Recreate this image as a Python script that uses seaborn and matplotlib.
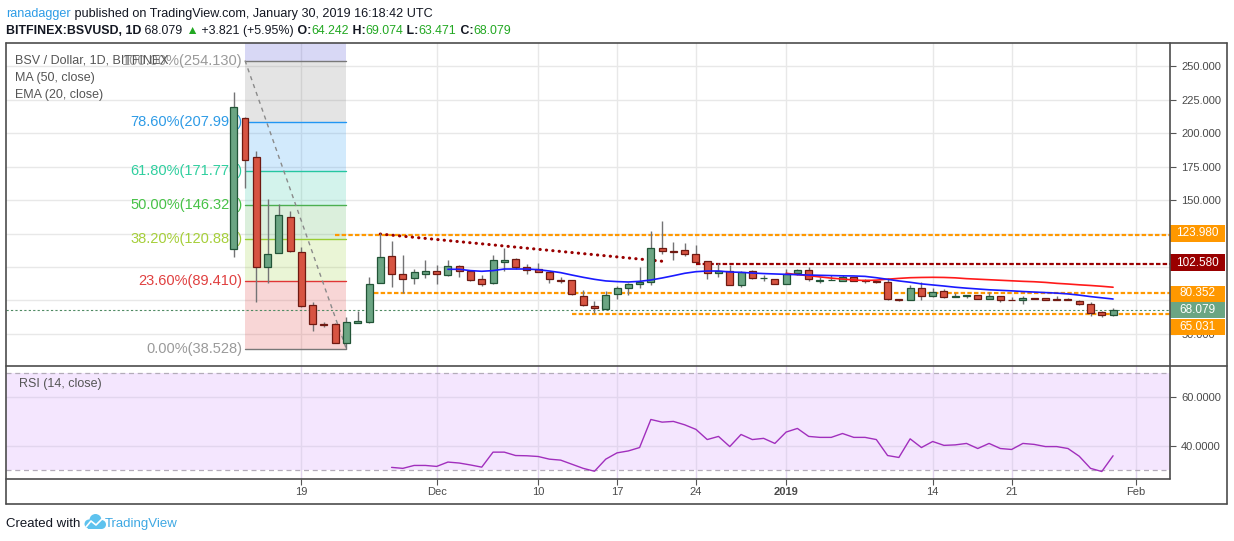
import numpy as np
import pandas as pd
import seaborn as sns
import matplotlib.pyplot as plt
from matplotlib.patches import Rectangle, Circle
from matplotlib.lines import Line2D

# ---- data (BSV / USD daily, Bitfinex) ----
start_date = "2018-11-13"
opens = [113.2, 211.0, 181.9, 100.2, 110.7, 137.1, 111.0, 71.4, 57.5, 57.5,
         43.1, 58.2, 59.2, 88.3, 108.0, 94.6, 91.6, 94.5, 97.0, 94.3,
         100.5, 97.0, 90.8, 87.8, 103.5, 105.7, 99.8, 98.3, 96.0, 90.1,
         90.1, 78.6, 70.7, 68.9, 79.6, 84.1, 87.1, 88.6, 113.9, 111.7,
         112.5, 109.5, 104.3, 95.3, 97.0, 86.2, 96.8, 91.8, 91.0, 87.1,
         95.3, 97.5, 89.6, 90.2, 89.8, 92.3, 90.1, 89.6, 88.8, 76.1,
         75.2, 84.1, 78.4, 82.1, 77.9, 78.5, 78.9, 76.4, 78.1, 75.4,
         75.1, 76.8, 76.9, 76.4, 76.1, 74.6, 72.4, 66.2, 64.242]
highs = [230.4, 212.0, 186.6, 150.7, 147.0, 141.8, 114.7, 73.9, 59.0, 58.0,
         62.5, 67.2, 92.3, 125.1, 119.6, 108.7, 98.5, 105.2, 101.5, 105.2,
         101.5, 97.5, 94.0, 109.0, 114.2, 106.5, 102.2, 103.0, 96.0, 92.3,
         90.5, 82.8, 74.4, 82.1, 85.8, 87.9, 99.8, 126.9, 134.3, 118.7,
         118.2, 116.4, 104.5, 102.8, 101.5, 97.2, 97.5, 94.0, 91.2, 98.5,
         98.5, 100.0, 92.5, 94.0, 94.0, 92.8, 91.0, 89.9, 91.6, 76.4,
         86.6, 88.6, 84.1, 83.4, 80.3, 78.8, 79.1, 81.1, 78.4, 77.9,
         78.4, 77.2, 77.2, 78.4, 76.6, 75.1, 74.1, 67.2, 69.074]
lows = [107.7, 159.2, 74.1, 88.3, 110.2, 111.0, 70.5, 52.2, 54.9, 43.0,
        38.5, 58.0, 58.0, 88.3, 84.9, 80.8, 87.5, 92.0, 87.5, 93.5,
        92.5, 89.6, 85.8, 87.5, 97.2, 98.3, 95.0, 96.0, 88.3, 88.0,
        79.3, 70.9, 65.5, 68.9, 75.9, 79.4, 84.1, 86.6, 110.0, 105.2,
        108.2, 103.5, 91.3, 92.8, 86.4, 85.0, 91.0, 89.6, 87.0, 87.1,
        94.0, 89.6, 87.8, 90.0, 89.8, 89.5, 88.3, 88.3, 75.4, 74.9,
        75.2, 75.2, 77.9, 77.2, 77.8, 77.0, 76.2, 76.1, 74.1, 75.0,
        72.4, 75.8, 75.2, 75.4, 75.0, 72.0, 63.7, 62.9, 63.471]
closes = [219.2, 179.6, 100.2, 109.5, 138.6, 111.7, 70.9, 57.5, 56.7, 43.1,
          58.7, 59.5, 87.1, 107.2, 94.6, 91.3, 96.0, 97.0, 94.5, 100.5,
          96.8, 90.5, 87.1, 105.0, 105.0, 99.8, 98.0, 96.0, 90.8, 89.6,
          79.6, 71.4, 69.2, 78.9, 84.1, 87.1, 88.6, 113.9, 111.7, 111.5,
          109.5, 104.0, 95.3, 97.0, 86.4, 96.3, 91.6, 92.0, 87.1, 94.5,
          97.5, 90.8, 90.3, 90.5, 92.3, 89.8, 89.4, 88.6, 76.3, 75.2,
          84.1, 78.1, 81.1, 77.9, 78.7, 78.8, 76.4, 78.1, 75.1, 75.2,
          76.6, 76.3, 75.7, 75.7, 75.1, 72.1, 65.3, 64.258, 68.079]

# EMA 20 starts at bar 19, MA 50 at bar 49, RSI 14 at bar 14
ema20 = [98.3, 98.3, 97.3, 96.8, 97.3, 98.5, 98.5, 98.5, 98.0, 97.0,
         95.8, 94.0, 92.3, 90.8, 89.6, 89.1, 88.8, 89.3, 90.3, 91.8,
         93.5, 95.3, 96.5, 97.0, 97.0, 96.3, 96.0, 95.5, 95.1, 94.8,
         94.5, 94.3, 94.0, 93.8, 93.6, 93.4, 93.3, 93.0, 92.0, 90.8,
         89.6, 88.6, 87.4, 86.6, 85.8, 84.9, 84.2, 83.6, 83.0, 82.6,
         82.2, 81.7, 81.3, 80.9, 80.5, 79.9, 79.0, 77.9, 77.0, 76.1]
ma50 = [95.3, 94.3, 93.5, 92.6, 91.7, 91.0, 90.3, 89.9, 90.2, 90.9,
        91.5, 92.0, 92.2, 92.3, 92.2, 91.9, 91.3, 90.9, 90.5, 90.1,
        89.7, 89.3, 89.0, 88.5, 87.8, 87.3, 86.7, 86.2, 85.6, 84.9]
rsi14 = [31.1, 30.7, 31.9, 31.9, 31.5, 33.3, 32.9, 32.1, 31.2, 37.4,
         37.4, 36.0, 35.9, 35.6, 34.5, 34.1, 32.4, 30.7, 29.5, 34.5,
         37.1, 37.9, 39.3, 50.9, 49.8, 50.1, 48.7, 46.8, 42.6, 43.9,
         39.7, 44.7, 42.6, 43.1, 41.0, 45.7, 47.2, 43.9, 43.5, 43.5,
         45.1, 43.5, 43.5, 42.6, 36.0, 35.2, 42.9, 39.3, 41.8, 40.2,
         40.4, 41.0, 38.9, 41.0, 38.9, 38.5, 41.0, 40.6, 39.7, 39.7,
         38.9, 35.7, 30.7, 29.4, 35.9]

tick_dates = ["2018-11-19", "2018-12-01", "2018-12-10", "2018-12-17", "2018-12-24",
              "2019-01-01", "2019-01-14", "2019-01-21", "2019-02-01"]
tick_labels = ["19", "Dec", "10", "17", "24", "2019", "14", "21", "Feb"]

price_ticks = [50, 75, 100, 125, 150, 175, 200, 225, 250]
price_tick_labels = ["50.000", "", "", "", "150.000", "175.000", "200.000", "225.000", "250.000"]

fib_prices = [254.130, 207.991, 171.770, 146.329, 120.888, 89.410, 38.528]
fib_labels = ["100.00%(254.130)", "78.60%(207.991)", "61.80%(171.770)", "50.00%(146.329)",
              "38.20%(120.888)", "23.60%(89.410)", "0.00%(38.528)"]
fib_start, fib_end = 1, 10

levels = [123.980, 102.580, 80.352, 65.031]
level_start = [9, 41, 12.4, 30]
trend_pts = ([13, 38], [124.6, 104.3])
last_price = 68.079

# ---- styling ----
sns.set_style("white")
plt.rcParams["font.family"] = ["Liberation Sans", "DejaVu Sans"]

W, H = 1234, 541
fig = plt.figure(figsize=(W / 100, H / 100), dpi=100)


def rect(x0, y0, x1, y1):
    return [x0 / W, 1 - y1 / H, (x1 - x0) / W, (y1 - y0) / H]


def fig_line(x0, y0, x1, y1, color="#4d4d4d", lw=1.2):
    fig.add_artist(Line2D([x0 / W, x1 / W], [1 - y0 / H, 1 - y1 / H],
                          transform=fig.transFigure, color=color, lw=lw, zorder=20))


ax = fig.add_axes(rect(6, 43, 1170, 366))
ax_rsi = fig.add_axes(rect(6, 366, 1170, 479), sharex=ax)
for a in (ax, ax_rsi):
    for s in a.spines.values():
        s.set_visible(False)

idx = np.arange(len(closes))
start = pd.Timestamp(start_date)
tick_pos = [(pd.Timestamp(d) - start).days for d in tick_dates]

ax.set_xlim(-20.2, 83.05)
ax.set_ylim(26.1, 267.2)

# price axis
ax.set_yticks(price_ticks)
ax.set_yticklabels(price_tick_labels)
ax.yaxis.tick_right()
ax.tick_params(axis="y", length=4, width=0.8, color="#555555", labelsize=8,
               labelcolor="#4a4a4a", pad=4)
ax.set_xticks(tick_pos)
ax.tick_params(axis="x", bottom=False, labelbottom=False)
ax.grid(True, color="#e8e8e8", lw=1)
ax.set_axisbelow(True)

# fibonacci retracement block
fib_line_colors = ["#787878", "#2196f3", "#26c6a0", "#4caf50", "#9acd32", "#e03535", "#787878"]
fib_text_colors = ["#9a9a9a", "#2e9be6", "#2fcf9f", "#47c247", "#a6cf3a", "#e04040", "#9a9a9a"]
ax.fill_between([fib_start, fib_end], fib_prices[0], 267.2, color="#3f3fd0", alpha=0.2, lw=0, zorder=1)
for k in range(len(fib_prices) - 1):
    ax.fill_between([fib_start, fib_end], fib_prices[k + 1], fib_prices[k],
                    color=fib_line_colors[k], alpha=0.2, lw=0, zorder=1)
for p, lab, lc, tc in zip(fib_prices, fib_labels, fib_line_colors, fib_text_colors):
    ax.plot([fib_start, fib_end], [p, p], color=lc, lw=1, zorder=2)
    ax.text(0.8, p, lab, color=tc, fontsize=10.5, ha="right", va="center", zorder=2.5)
ax.plot([fib_start, fib_end], [fib_prices[0], fib_prices[-1]], color="#8a8a8a",
        lw=1, ls=(0, (3, 3)), zorder=2)

# drawn levels
ax.axhline(last_price, color="#4f8a63", lw=0.8, ls=(0, (2, 2)), zorder=2)
lvl_colors = ["#ff9800", "#990000", "#ff9800", "#ff9800"]
for p, x0, c in zip(levels, level_start, lvl_colors):
    ax.plot([x0, 90], [p, p], color=c, lw=1.6, ls=(0, (2, 1)), zorder=3)
ax.plot(trend_pts[0], trend_pts[1], color="#990000", lw=2.2, ls=(0, (0.1, 2.0)),
        dash_capstyle="round", zorder=3)

# candles
for i, o, h, l, c in zip(idx, opens, highs, lows, closes):
    up = c >= o
    ax.vlines(i, l, h, color="#737375", lw=1, zorder=4)
    ax.bar(i, max(abs(c - o), 0.25), bottom=min(o, c), width=0.62,
           color="#6ba583" if up else "#d75442",
           edgecolor="#225437" if up else "#6f1a12", lw=0.9, zorder=5)

ema_df = pd.DataFrame({"bar": idx[19:], "ema": ema20})
ma_df = pd.DataFrame({"bar": idx[49:], "ma": ma50})
sns.lineplot(data=ma_df, x="bar", y="ma", ax=ax, color="#ff1a1a", lw=1.2, zorder=6)
sns.lineplot(data=ema_df, x="bar", y="ema", ax=ax, color="#1a1aff", lw=1.2, zorder=6)
ax.set_xlabel("")
ax.set_ylabel("")

# legend texts
for y, s in [(60.5, "BSV / Dollar, 1D, BITFINEX"), (77.5, "MA (50, close)"), (95, "EMA (20, close)")]:
    fig.text(15 / W, 1 - y / H, s, color="#555555", fontsize=9, va="center", ha="left", zorder=1)

# RSI panel
rsi_df = pd.DataFrame({"bar": idx[14:], "rsi": rsi14})
ax_rsi.set_ylim(26.3, 73)
ax_rsi.axhspan(30, 70, color="#f4e6fe", lw=0, zorder=0.2)
ax_rsi.axhline(70, color="#b3acb9", lw=0.9, ls=(0, (4, 3)), zorder=1)
ax_rsi.axhline(30, color="#b3acb9", lw=0.9, ls=(0, (4, 3)), zorder=1)
sns.lineplot(data=rsi_df, x="bar", y="rsi", ax=ax_rsi, color="#a12fbd", lw=1.0, zorder=3)
ax_rsi.set_yticks([40, 60])
ax_rsi.set_yticklabels(["40.0000", "60.0000"])
ax_rsi.yaxis.tick_right()
ax_rsi.tick_params(axis="y", length=4, width=0.8, color="#555555", labelsize=8,
                   labelcolor="#4a4a4a", pad=4)
ax_rsi.set_xticks(tick_pos)
ax_rsi.set_xticklabels(tick_labels)
ax_rsi.tick_params(axis="x", bottom=True, length=4, width=0.8, color="#555555",
                   labelsize=8, labelcolor="#4a4a4a", pad=2)
for t in ax_rsi.get_xticklabels():
    if t.get_text() == "2019":
        t.set_fontweight("bold")
ax_rsi.grid(True, color="#e2d6ee", lw=1)
ax_rsi.set_axisbelow(True)
ax_rsi.set_xlabel("")
ax_rsi.set_ylabel("")
ax_rsi.text(13 / 1164, 1 - (384 - 366) / 113, "RSI (14, close)", transform=ax_rsi.transAxes,
            color="#555555", fontsize=9, va="center", ha="left")

# frame
fig_line(6, 43, 1227, 43)
fig_line(6, 504, 1227, 504)
fig_line(6, 43, 6, 504)
fig_line(1227, 43, 1227, 504)
fig_line(6, 366, 1227, 366)
fig_line(1170, 43, 1170, 479)
fig_line(6, 479, 1170, 479)

# price labels on the axis
boxes = [(123.980, 233.5, "#ff9800"), (102.580, 262.5, "#990000"), (80.352, 293.5, "#ff9800"),
         (68.079, 310.0, "#6ba583"), (65.031, 327.0, "#ff9800")]
for val, yc, col in boxes:
    fig.add_artist(Rectangle((1170 / W, 1 - (yc + 8) / H), 55 / W, 16 / H,
                             transform=fig.transFigure, color=col, lw=0, zorder=15))
    fig.text(1197 / W, 1 - yc / H, f"{val:.3f}", color="white", fontsize=8.5,
             ha="center", va="center", zorder=16)

# header and footer
renderer = fig.canvas.get_renderer()


def chain(x, y, parts, size):
    for s, col, wt in parts:
        t = fig.text(x / W, 1 - y / H, s, color=col, fontsize=size, fontweight=wt,
                     ha="left", va="baseline")
        x += t.get_window_extent(renderer).width
    return x


green = "#22a822"
chain(6, 17, [("ranadagger", "#2e9ce6", "normal"),
              (" published on TradingView.com, January 30, 2019 16:18:42 UTC", "#131722", "normal")], 9.1)
chain(6, 34, [("BITFINEX:BSVUSD, 1D", "#131722", "bold"), (" 68.079", "#131722", "normal"),
              (" \u25b2", green, "normal"), (" +3.821 (+5.95%)", "#131722", "normal"),
              (" O:", "#131722", "bold"), ("64.242", green, "normal"),
              (" H:", "#131722", "bold"), ("69.074", green, "normal"),
              (" L:", "#131722", "bold"), ("63.471", green, "normal"),
              (" C:", "#131722", "bold"), ("68.079", green, "normal")], 8.9)

fig.text(6 / W, 1 - 527 / H, "Created with", color="#131722", fontsize=9.5, ha="left", va="baseline")
for cx, cy, r in [(89, 524, 4.5), (95.5, 520, 6), (101.5, 524.5, 4.5)]:
    fig.add_artist(Circle((cx / 100, (H - cy) / 100), r / 100, transform=fig.dpi_scale_trans,
                          color="#5ec2ee", lw=0))
fig.add_artist(Rectangle((88 / 100, (H - 529) / 100), 14 / 100, 5 / 100,
                         transform=fig.dpi_scale_trans, color="#5ec2ee", lw=0))
fig.add_artist(Line2D(np.array([86, 91, 96, 103]) / 100, (H - np.array([527, 521, 525, 518])) / 100,
                      transform=fig.dpi_scale_trans, color="white", lw=1.2))
fig.text(105 / W, 1 - 527 / H, "TradingView", color="#3ea8e3", fontsize=9.5, ha="left", va="baseline")

fig.savefig("out.png", dpi=100, facecolor="white")
